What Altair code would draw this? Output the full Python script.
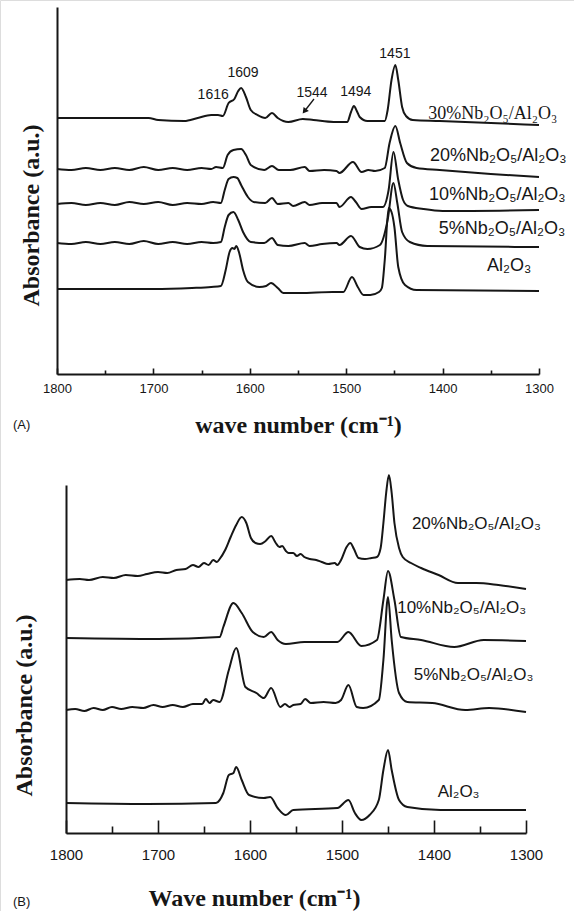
import altair as alt
import pandas as pd

SANS = "Liberation Sans"
SERIF = "Liberation Serif"
INK = "#161616"

# ---------------- Panel (A): wavenumber (cm-1) and absorbance (a.u.) ----------------
a30_wn = [1800, 1750, 1705, 1695, 1668, 1654, 1640, 1633, 1628, 1622, 1616, 1612, 1609, 1604, 1599,
          1592, 1584, 1577, 1571, 1560, 1545, 1534, 1513, 1499, 1495, 1492, 1489, 1486, 1478,
          1460, 1457, 1453, 1449, 1446, 1442, 1438, 1431, 1403, 1300]
a30_ab = [25.6, 25.6, 25.6, 25.4, 25.3, 25.6, 25.9, 25.9, 25.8, 27.1, 27.5, 28.3, 28.6, 27.7, 26.4,
          25.9, 25.6, 26.1, 25.6, 25.2, 25.5, 25.4, 25.2, 25.2, 26.2, 26.8, 26.3, 25.7, 25.3,
          25.3, 26.4, 29.4, 30.9, 29.4, 26.7, 25.8, 25.4, 25.3, 24.9]

a20_wn = [1800, 1785, 1770, 1755, 1740, 1725, 1710, 1695, 1680, 1665, 1650, 1640, 1635, 1628,
          1623, 1617, 1609, 1604, 1599, 1585, 1577, 1570, 1558, 1543, 1538, 1523, 1510, 1507,
          1493, 1484, 1477, 1470, 1460, 1455, 1449, 1444, 1437, 1427, 1403, 1350, 1300]
a20_ab = [20.5, 20.4, 20.6, 20.4, 20.6, 20.4, 20.7, 20.4, 20.6, 20.4, 20.6, 20.5, 20.7, 20.6,
          21.9, 22.4, 22.5, 21.9, 20.9, 20.4, 20.8, 20.4, 20.4, 20.7, 20.3, 20.4, 20.3, 20.1,
          21.2, 20.2, 20.4, 20.3, 20.6, 23.1, 24.8, 23.1, 21.1, 20.6, 20.4, 20.0, 19.7]

a10_wn = [1800, 1785, 1770, 1755, 1740, 1725, 1710, 1695, 1680, 1665, 1650, 1638, 1630, 1626,
          1622, 1617, 1613, 1609, 1602, 1596, 1584, 1577, 1571, 1560, 1555, 1543, 1538, 1525,
          1510, 1507, 1495, 1490, 1484, 1474, 1462, 1456, 1451, 1446, 1441, 1436, 1420, 1400, 1300]
a10_ab = [17.0, 17.1, 16.9, 17.1, 16.9, 17.2, 17.0, 17.2, 16.9, 17.1, 17.0, 17.2, 17.1, 18.4,
          19.5, 19.7, 19.6, 18.9, 17.7, 17.2, 17.1, 17.6, 17.0, 17.1, 16.8, 17.2, 16.9, 17.1,
          17.1, 16.7, 17.7, 17.2, 16.5, 16.7, 16.7, 18.4, 22.2, 19.4, 17.4, 16.8, 16.5, 16.3, 16.4]

a05_wn = [1800, 1785, 1770, 1755, 1740, 1725, 1710, 1695, 1680, 1665, 1650, 1638, 1630, 1626,
          1622, 1617, 1612, 1607, 1599, 1585, 1577, 1571, 1560, 1543, 1538, 1525, 1510, 1507,
          1495, 1486, 1478, 1465, 1457, 1451, 1447, 1442, 1434, 1416, 1300]
a05_ab = [13.1, 13.0, 13.2, 13.0, 13.2, 13.0, 13.3, 13.0, 13.2, 13.0, 13.2, 13.1, 13.2, 14.7,
          15.9, 16.2, 15.4, 14.2, 13.2, 13.1, 13.6, 12.9, 12.8, 13.1, 12.8, 13.0, 13.1, 12.9,
          13.8, 12.7, 12.5, 12.9, 15.4, 19.1, 17.1, 14.2, 13.2, 12.8, 12.7]

a00_wn = [1800, 1700, 1660, 1640, 1630, 1625, 1621, 1618, 1616, 1614, 1611, 1607, 1602, 1590,
          1583, 1578, 1571, 1565, 1548, 1514, 1503, 1494, 1488, 1482, 1475, 1466, 1463, 1460,
          1456, 1453, 1450, 1446, 1439, 1427, 1300]
a00_ab = [8.5, 8.5, 8.6, 8.7, 8.8, 10.4, 12.2, 12.6, 12.5, 12.8, 12.1, 10.4, 9.2, 8.7,
          8.8, 9.1, 8.6, 8.1, 8.1, 8.2, 8.2, 9.7, 8.7, 7.9, 7.9, 8.2, 8.6, 11.4,
          16.6, 16.2, 14.7, 10.7, 8.9, 8.4, 8.3]

# series labels of panel (A)
a_lab_text = ["20%Nb₂O₅/Al₂O₃", "10%Nb₂O₅/Al₂O₃", "5%Nb₂O₅/Al₂O₃", "Al₂O₃"]
a_lab_wn = [1413, 1414, 1404, 1354]
a_lab_ab = [21.8, 17.9, 14.5, 10.8]
a_top_text = ["30%Nb₂O₅/Al₂O₃"]
a_top_wn = [1415]
a_top_ab = [26.0]

# band assignments written above the 30 % spectrum
peak_text = ["1616", "1609", "1544", "1494", "1451"]
peak_wn = [1638, 1607, 1535.5, 1490, 1449.5]
peak_ab = [27.9, 30.1, 28.1, 28.2, 32.0]

# arrow pointing at the 1544 band
arrow_wn = [1533.4, 1542.7]
arrow_ab = [27.5, 26.35]

# ---------------- Panel (B) ----------------
b20_wn = [1800, 1785, 1775, 1760, 1748, 1735, 1722, 1712, 1700, 1690, 1680, 1670, 1662, 1656,
          1650, 1645, 1640, 1636, 1633, 1627, 1621, 1615, 1609, 1604, 1599, 1594, 1589, 1583,
          1577, 1572, 1568, 1565, 1561, 1558, 1553, 1549, 1545, 1541, 1535, 1528, 1522, 1515,
          1508, 1505, 1501, 1495, 1491, 1487, 1482, 1475, 1468, 1462, 1458, 1455, 1452, 1449,
          1446, 1443, 1438, 1434, 1425, 1414, 1395, 1374, 1354, 1330, 1300]
b20_ab = [25.3, 25.4, 25.3, 25.6, 25.5, 25.8, 25.7, 25.9, 26.1, 26.0, 26.3, 26.4, 26.8, 26.6,
          27.0, 26.8, 27.3, 27.1, 27.4, 28.3, 29.6, 30.8, 31.6, 31.0, 29.5, 29.0, 28.9, 29.2,
          29.7, 29.0, 28.6, 28.7, 28.2, 28.0, 28.0, 27.7, 27.9, 27.6, 27.4, 27.3, 27.1, 26.9,
          27.0, 26.8, 27.3, 28.6, 29.0, 28.4, 27.5, 27.4, 27.5, 27.6, 28.5, 31.0, 34.0, 35.8,
          34.0, 31.0, 28.5, 27.6, 27.0, 26.5, 25.8, 25.0, 25.0, 24.8, 24.4]

b10_wn = [1800, 1700, 1633, 1629, 1618, 1609, 1597, 1585, 1577, 1570, 1561, 1541, 1505, 1493,
          1479, 1462, 1455, 1450, 1443, 1436, 1414, 1378, 1346, 1300]
b10_ab = [19.5, 19.4, 19.6, 20.6, 23.0, 22.0, 20.1, 19.6, 20.1, 19.3, 18.9, 19.1, 19.1, 20.1,
          18.7, 19.3, 23.3, 26.2, 23.3, 19.6, 19.3, 18.6, 19.3, 19.2]

b05_wn = [1800, 1790, 1780, 1770, 1760, 1750, 1740, 1728, 1716, 1705, 1695, 1684, 1673, 1662,
          1652, 1648, 1644, 1640, 1633, 1623, 1615, 1605, 1593, 1585, 1577, 1567, 1562, 1557,
          1553, 1545, 1540, 1534, 1520, 1507, 1501, 1493, 1484, 1477, 1460, 1455, 1450, 1446,
          1438, 1429, 1402, 1366, 1340, 1300]
b05_ab = [12.3, 12.4, 12.2, 12.5, 12.3, 12.6, 12.4, 12.6, 12.5, 12.8, 12.6, 12.8, 12.6, 12.9,
          12.9, 13.4, 13.0, 13.3, 13.1, 16.3, 18.5, 14.6, 14.0, 13.5, 14.5, 12.6, 12.9, 12.6,
          12.8, 12.9, 13.4, 13.0, 13.1, 13.0, 13.3, 14.8, 12.6, 12.5, 13.3, 17.3, 23.6, 19.3,
          14.0, 13.1, 13.0, 12.3, 12.5, 12.1]

b00_wn = [1800, 1712, 1637, 1629, 1623, 1618, 1615, 1609, 1601, 1585, 1578, 1570, 1561, 1553,
          1505, 1493, 1486, 1479, 1470, 1460, 1455, 1450, 1446, 1438, 1429, 1393, 1300]
b00_ab = [3.0, 2.9, 3.0, 4.0, 5.8, 6.0, 6.6, 5.3, 3.8, 3.5, 3.6, 2.5, 1.8, 2.3,
          2.5, 3.3, 2.0, 1.3, 1.8, 3.3, 6.3, 8.3, 6.3, 3.3, 2.6, 2.3, 2.3]

b_lab_text = ["20%Nb₂O₅/Al₂O₃", "10%Nb₂O₅/Al₂O₃", "5%Nb₂O₅/Al₂O₃", "Al₂O₃"]
b_lab_wn = [1424, 1440, 1422, 1396]
b_lab_ab = [30.9, 22.5, 15.8, 4.1]

major_ticks = [1800, 1700, 1600, 1500, 1400, 1300]
minor_ticks = [1750, 1650, 1550, 1450, 1350]


def spectra_frame(series):
    rows = []
    for name, wns, vals in series:
        for i, (w, v) in enumerate(zip(wns, vals)):
            rows.append({"series": name, "wn": w, "ab": v, "idx": i})
    return pd.DataFrame(rows)


dfA = spectra_frame([("30", a30_wn, a30_ab), ("20", a20_wn, a20_ab), ("10", a10_wn, a10_ab),
                     ("5", a05_wn, a05_ab), ("0", a00_wn, a00_ab)])
dfB = spectra_frame([("20", b20_wn, b20_ab), ("10", b10_wn, b10_ab),
                     ("5", b05_wn, b05_ab), ("0", b00_wn, b00_ab)])

CANVAS_H = 911


def panel(df, labels, x_px, y_px, tick_font, tick_pad, major_len, minor_len,
          x_title, x_title_pos, y_title_pos, tag, tag_pos, label_size, extras=()):
    x0, x1 = x_px
    y_bottom, y_top = y_px
    xs = alt.Scale(domain=[1800, 1300], range=[x0, x1], nice=False, zero=False)
    ys = alt.Scale(domain=[0, (y_bottom - y_top) / 10], range=[y_bottom, y_top], nice=False, zero=False)

    x_axis = alt.Axis(orient="bottom", offset=y_bottom - CANVAS_H, values=major_ticks, format="d",
                      ticks=False, domain=True, domainColor=INK, domainWidth=2, grid=False,
                      labelFont=SANS, labelFontSize=tick_font, labelColor=INK, labelPadding=tick_pad,
                      labelFlush=False, labelOverlap=False,
                      title=x_title, titleFont=SERIF, titleFontSize=24, titleFontWeight="bold",
                      titleColor=INK, titleX=x_title_pos[0], titleY=x_title_pos[1] - y_bottom,
                      titleAlign="center", titleBaseline="middle")
    y_axis = alt.Axis(orient="left", offset=-x0, ticks=False, labels=False, domain=True,
                      domainColor=INK, domainWidth=2, grid=False,
                      title="Absorbance (a.u.)", titleFont=SERIF, titleFontSize=24,
                      titleFontWeight="bold", titleColor=INK, titleAngle=270,
                      titleX=y_title_pos[0] - x0, titleY=y_title_pos[1],
                      titleAlign="center", titleBaseline="middle")

    lines = alt.Chart(df).mark_line(interpolate="monotone", strokeWidth=2, color=INK).encode(
        x=alt.X("wn:Q", scale=xs, axis=x_axis),
        y=alt.Y("ab:Q", scale=ys, axis=y_axis),
        detail="series:N",
        order="idx:Q",
    )
    lab_df = pd.DataFrame({"wn": labels[1], "ab": labels[2], "text": labels[0]})
    lab = alt.Chart(lab_df).mark_text(font=SANS, fontSize=label_size, align="left",
                                      baseline="middle", color=INK).encode(
        x=alt.X("wn:Q", scale=xs), y=alt.Y("ab:Q", scale=ys), text="text:N")
    tag_mark = alt.Chart(pd.DataFrame({"t": [tag]})).mark_text(
        font=SANS, fontSize=13, align="left", baseline="middle", color=INK).encode(
        x=alt.value(tag_pos[0]), y=alt.value(tag_pos[1]), text="t:N")

    layers = [lines, lab, tag_mark] + [e(xs, ys) for e in extras]
    main = alt.layer(*layers)

    def tick_layer(values, size):
        return alt.Chart(pd.DataFrame({"wn": values})).mark_point(opacity=0).encode(
            x=alt.X("wn:Q", scale=xs,
                    axis=alt.Axis(orient="top", offset=-y_bottom, values=values, tickSize=size,
                                  tickWidth=1.6, tickColor=INK, domain=False, labels=False,
                                  grid=False, title="")))

    return [main, tick_layer(major_ticks, major_len), tick_layer(minor_ticks, minor_len)]


def top_label(xs, ys):
    d = pd.DataFrame({"wn": a_top_wn, "ab": a_top_ab, "text": a_top_text})
    return alt.Chart(d).mark_text(font=SERIF, fontSize=18, align="left", baseline="middle",
                                  color=INK).encode(
        x=alt.X("wn:Q", scale=xs), y=alt.Y("ab:Q", scale=ys), text="text:N")


def peak_labels(xs, ys):
    d = pd.DataFrame({"wn": peak_wn, "ab": peak_ab, "text": peak_text})
    return alt.Chart(d).mark_text(font=SANS, fontSize=14, align="center", baseline="middle",
                                  color=INK).encode(
        x=alt.X("wn:Q", scale=xs), y=alt.Y("ab:Q", scale=ys), text="text:N")


def arrow_shaft(xs, ys):
    d = pd.DataFrame({"wn": arrow_wn, "ab": arrow_ab, "idx": [0, 1]})
    return alt.Chart(d).mark_line(strokeWidth=1.3, color=INK).encode(
        x=alt.X("wn:Q", scale=xs), y=alt.Y("ab:Q", scale=ys), order="idx:Q")


def arrow_head(xs, ys):
    d = pd.DataFrame({"wn": arrow_wn[-1:], "ab": arrow_ab[-1:]})
    return alt.Chart(d).mark_point(shape="triangle", filled=True, size=45, angle=218,
                                   color=INK, opacity=1).encode(
        x=alt.X("wn:Q", scale=xs), y=alt.Y("ab:Q", scale=ys))


panel_a = panel(dfA, (a_lab_text, a_lab_wn, a_lab_ab), (57, 539), (374, 7), 13, 8, 6, 4,
                "wave number (cm⁻¹)", (298, 425), (31, 215), "(A)", (13, 425), 18,
                extras=(top_label, peak_labels, arrow_shaft, arrow_head))
panel_b = panel(dfB, (b_lab_text, b_lab_wn, b_lab_ab), (66, 526), (833, 485), 15, 14, 13, 7,
                "Wave number (cm⁻¹)", (254, 898), (24, 705), "(B)", (13, 902), 17)

chart = alt.layer(*panel_a, *panel_b).resolve_scale(
    x="independent", y="independent"
).properties(
    width=574, height=911, padding=0,
    autosize=alt.AutoSizeParams(type="none"),
).configure_view(stroke=None).configure(background="white")

chart.save("out.html", embed_options={"renderer": "svg", "actions": False})
